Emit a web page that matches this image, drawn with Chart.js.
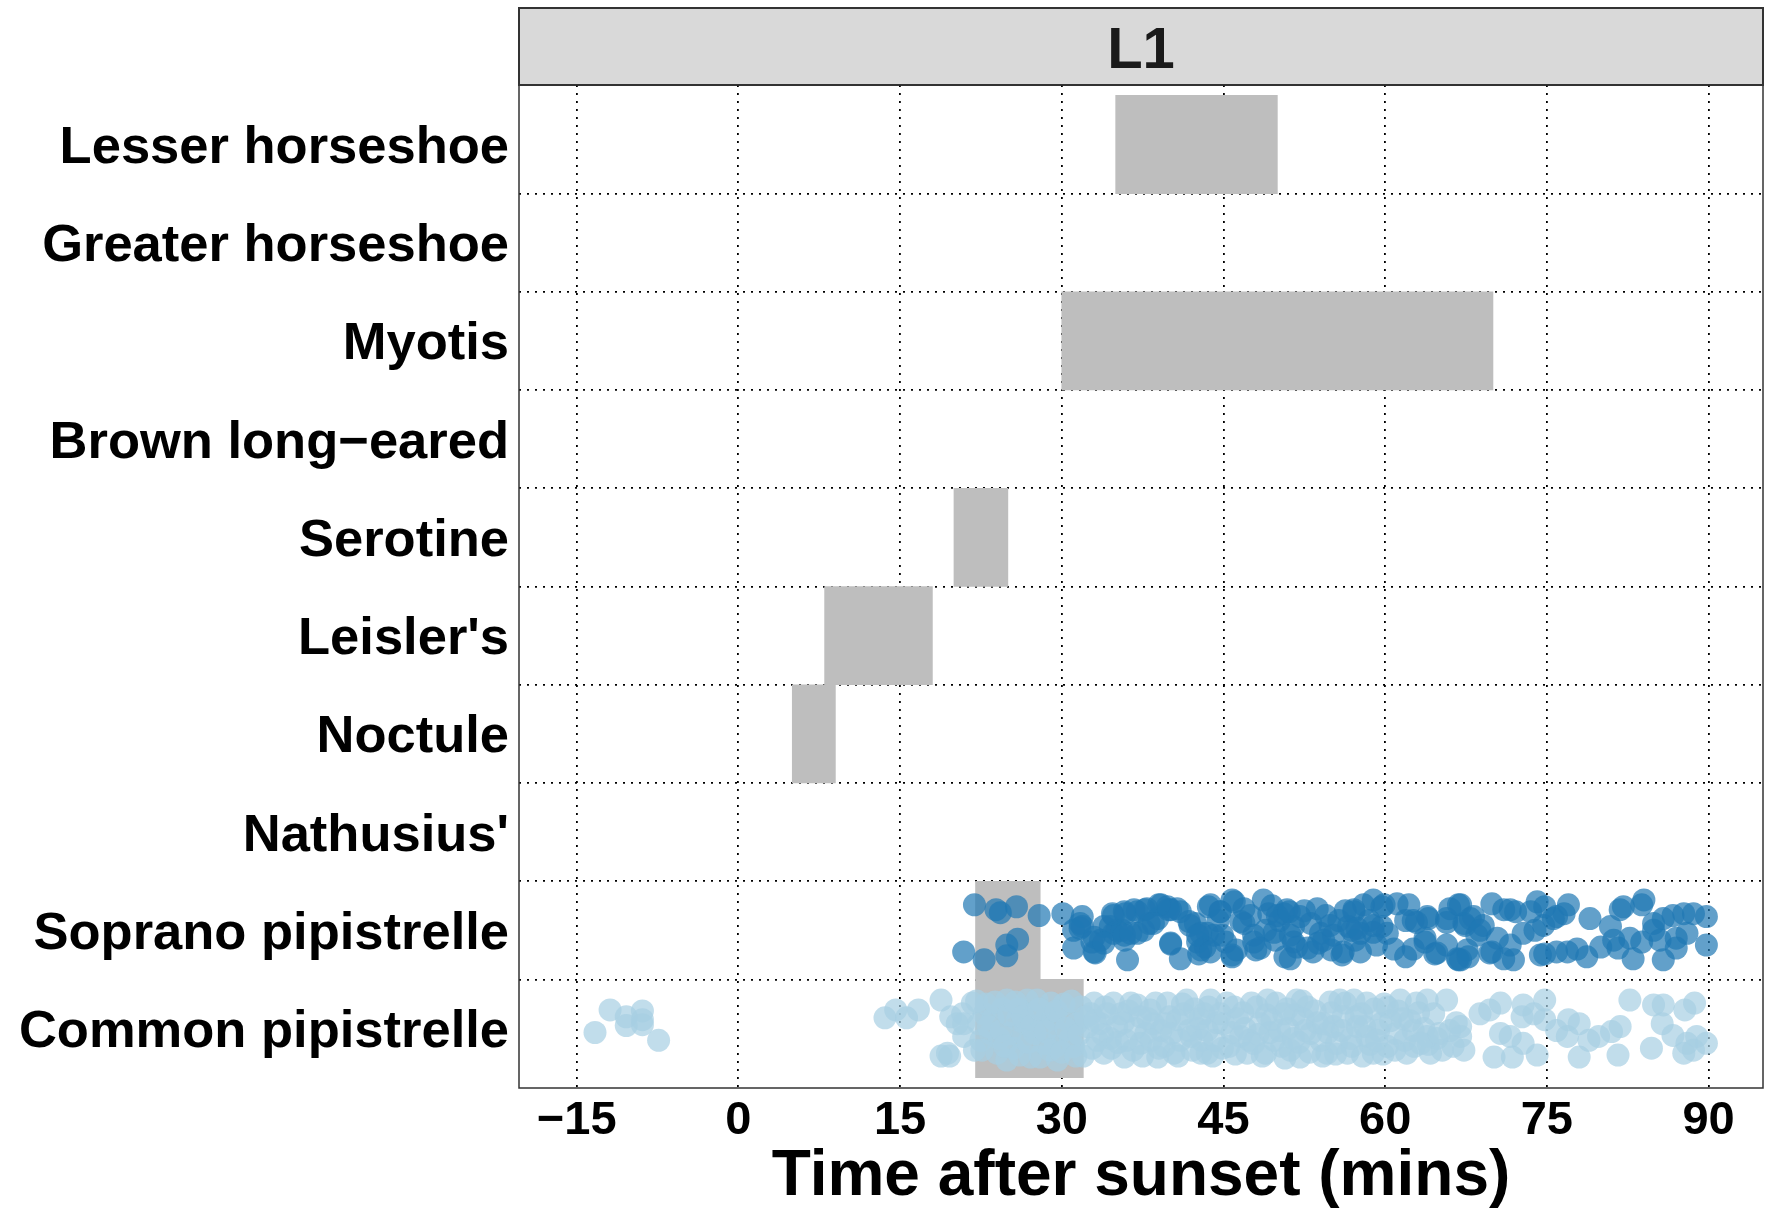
<!DOCTYPE html>
<html>
<head>
<meta charset="utf-8">
<title>L1</title>
<script src="https://cdn.jsdelivr.net/npm/chart.js@4/dist/chart.umd.min.js"></script>
<style>
  html, body { margin: 0; padding: 0; background: #fff; overflow: hidden; }
  #wrap { width: 1765px; height: 1213px; position: relative; }
  #wrap canvas { display: block; }
</style>
</head>
<body>
<div id="wrap"><canvas id="chart"></canvas></div>
<script>
// species, top to bottom
var species = ["Lesser horseshoe", "Greater horseshoe", "Myotis", "Brown long\u2212eared",
  "Serotine", "Leisler's", "Noctule", "Nathusius'", "Soprano pipistrelle", "Common pipistrelle"];

// grey activity windows (mins after sunset), null = none
var barStart = [35, null, 30, null, 20, 8, 5, null, 22, 22];
var barEnd   = [50, null, 70, null, 25, 18, 9, null, 28, 32];

var xTicks = [-15, 0, 15, 30, 45, 60, 75, 90];

// passes: [minutes, jitter within the row]
var sopranoPoints = [
  [21.9,-0.26],[23.9,-0.21],[24.3,-0.18],[25.8,-0.24],[27.9,-0.15],[30.1,-0.17],[31.9,-0.14],[31.9,-0.04],
  [20.9,0.22],[22.8,0.30],[24.9,0.15],[25.9,0.09],[24.9,0.26],[31.1,0.18],[33.1,0.23],[33.0,0.07],
  [33.9,-0.04],[34.8,-0.15],[35.1,0.0],[35.8,0.10],[36.1,0.30],[35.9,-0.17],[37.0,0.03],[37.7,-0.21],
  [37.0,-0.19],[38.9,-0.12],[39.2,-0.26],[40.1,-0.21],[41.0,-0.19],[40.1,0.14],[41.0,0.29],[41.8,-0.09],
  [41.9,-0.05],[42.7,0.24],[43.3,0.17],[43.6,-0.24],[43.5,0.03],
  [31.1,0.0],[31.7,-0.07],[32.8,0.12],[33.6,0.10],[34.5,-0.04],[34.8,0.03],[35.6,0.0],[36.4,0.03],
  [37.6,0.0],[38.1,-0.07],[39.8,-0.24],[40.7,-0.22],[42.4,-0.07],[42.6,0.12],
  [43.8,-0.26],[44.7,-0.19],[45.8,-0.31],[46.9,-0.22],[48.7,-0.31],[49.2,-0.17],[50.9,-0.21],[50.6,-0.17],
  [52.1,-0.14],[53.7,-0.22],[53.1,-0.07],[55.7,-0.10],[57.1,-0.21],[58.0,-0.26],[58.9,-0.31],[59.7,-0.24],
  [61.1,-0.27],[62.2,-0.26],[62.6,-0.10],[64.0,-0.12],[65.7,-0.12],[66.8,-0.26],[67.3,-0.07],
  [42.9,0.03],[44.1,0.05],[45.2,0.12],[46.9,-0.07],[48.9,0.0],[49.8,0.10],[51.5,-0.04],[51.8,0.17],
  [52.8,0.18],[53.8,0.13],[54.0,0.03],[55.2,0.05],[56.6,-0.04],[57.7,0.03],[58.9,0.02],[59.7,-0.04],[60.2,0.03],
  [42.9,0.20],[45.8,0.27],[48.0,0.20],[50.7,0.27],[56.0,0.25],[57.7,0.22],[60.8,0.19],[61.9,0.27],
  [62.6,0.19],[63.7,0.12],[64.6,0.24],[65.7,0.15],[66.8,0.30],[67.6,0.20],
  [44.5,-0.10],[46.2,0.20],[47.5,-0.15],[49.5,-0.25],[51.2,0.05],[52.5,-0.20],[54.5,-0.15],[55.0,0.20],
  [56.3,-0.20],[57.2,0.10],[58.5,-0.10],[59.2,0.15],[47.8,0.05],[50.2,-0.10],[53.3,0.22],[56.9,0.0],
  [31.7,-0.02],[33.0,0.22],[33.9,0.13],[34.7,-0.17],[35.8,-0.19],[36.7,-0.21],[37.9,-0.22],[39.0,-0.26],
  [39.9,-0.21],[35.8,0.05],[38.5,-0.07],[40.1,0.13],[42.6,0.05],[44.7,-0.19],[46.0,-0.29],[46.6,-0.09],
  [44.9,0.05],[43.8,0.22],[45.8,0.25],[47.8,0.12],[48.4,0.18],[50.0,-0.15],[51.1,-0.19],[49.7,0.02],
  [51.5,0.12],[51.2,0.29],[54.3,0.10],[54.9,-0.05],[56.1,0.22],[57.1,-0.19],[59.9,-0.26],[58.9,-0.05],
  [57.4,-0.02],[61.9,-0.10],[63.9,-0.14],[62.9,-0.08],[63.7,0.08],[64.8,0.23],[66.0,-0.22],[65.7,-0.08],
  [66.7,0.29],[67.9,-0.12],[68.5,0.05],[69.1,-0.05],[69.7,0.23],[71.6,-0.21],[73.5,-0.19],[74.4,0.25],
  [67.0,-0.26],[67.4,-0.05],[68.2,-0.14],[69.9,-0.27],[71.0,-0.21],[72.1,-0.19],[74.1,-0.29],[74.8,-0.24],
  [75.9,-0.14],[77.0,-0.26],[76.6,-0.17],[79.0,-0.12],[80.9,-0.04],[81.8,-0.21],[82.1,-0.24],[83.8,-0.26],
  [84.0,-0.31],[84.9,-0.07],[85.8,-0.12],[86.7,-0.15],[87.7,-0.17],[88.6,-0.17],[89.8,-0.14],
  [68.8,0.0],[70.4,0.08],[72.8,0.03],[73.9,0.0],[74.7,-0.05],[75.6,-0.12],[81.2,0.10],[82.7,0.08],
  [83.8,0.12],[84.9,0.0],[85.5,0.10],[87.0,0.08],[88.0,0.03],[89.8,0.15],
  [67.0,0.30],[67.7,0.27],[69.9,0.22],[71.0,0.29],[71.9,0.30],[71.6,0.15],[74.8,0.24],[75.9,0.22],
  [76.9,0.22],[77.8,0.19],[78.7,0.27],[80.0,0.17],[81.6,0.18],[83.0,0.29],[85.8,0.30],[87.0,0.18]
];

var commonPoints = [
  [-13.3,0.04],[-11.9,-0.19],[-10.4,-0.12],[-10.4,-0.03],[-8.9,-0.18],[-8.9,-0.09],[-8.9,-0.04],[-7.4,0.12],
  [13.6,-0.11],[14.6,-0.19],[15.6,-0.11],[16.7,-0.19],[18.8,0.28],[19.6,0.28],[20.3,-0.05],[20.8,-0.15],
  [18.8,-0.29],[19.7,-0.12],[19.4,0.25],[20.9,-0.05],[20.9,0.08],[21.7,-0.26],[21.9,0.22],
  [22.8,-0.15],[23.4,0.05],[24.0,0.25],[24.9,-0.29],[24.9,0.32],[25.9,-0.09],[26.8,-0.29],[27.1,0.29],
  [27.7,-0.29],[28.0,0.29],[28.7,-0.15],[29.0,-0.26],[29.4,0.18],[29.6,0.32],[30.5,-0.09],[31.1,0.18],
  [31.8,-0.22],[32.4,-0.02],[33.0,-0.26],[33.6,-0.05],[33.9,0.25],[34.8,-0.26],[35.1,-0.02],[35.8,0.29],
  [36.4,-0.26],[37.3,-0.12],[37.3,0.15],[38.2,-0.19],[38.9,0.29],[39.2,0.02],[39.8,-0.26],[40.4,0.25],
  [40.7,-0.09],[41.6,-0.29],[42.0,0.08],[42.9,0.25],[43.2,-0.15],
  [22.3,-0.05],[22.5,0.12],[23.0,-0.25],[23.6,-0.10],[24.2,0.10],[24.5,-0.20],[25.2,0.05],[25.5,0.20],
  [26.0,-0.20],[26.3,0.10],[26.6,-0.05],[27.3,-0.15],[27.5,0.05],[28.2,-0.05],[28.4,0.15],[29.2,-0.10],
  [29.8,0.05],[30.2,-0.25],[30.8,0.10],[31.4,-0.05],[32.0,0.28],[32.7,-0.15],[33.3,0.12],[34.2,-0.15],
  [34.5,0.10],[35.5,-0.15],[36.0,0.12],[36.8,0.0],[37.8,0.05],[38.5,-0.05],[39.5,0.18],[40.0,-0.12],
  [41.0,0.12],[41.3,-0.15],[42.3,-0.20],[42.6,0.0],
  [22.1,-0.28],[22.6,0.22],[23.2,-0.02],[23.8,-0.27],[24.4,0.02],[24.7,0.18],[25.1,-0.14],[25.7,-0.27],
  [26.1,0.27],[26.4,-0.12],[26.9,0.14],[27.2,-0.02],[27.9,-0.20],[28.5,0.03],[28.9,0.22],[29.5,-0.18],
  [30.0,0.24],[30.4,0.0],[30.9,-0.28],[31.3,0.28],[31.6,0.06],[32.2,-0.12],[32.8,0.20],[33.1,-0.08],
  [33.8,0.06],[34.0,-0.22],[34.6,0.20],[35.2,0.14],[35.7,-0.06],[36.2,-0.18],[36.6,0.22],[37.0,-0.24],
  [37.5,0.28],[38.0,-0.10],[38.3,0.12],[38.7,-0.26],[39.0,0.20],[39.6,-0.05],[40.2,0.05],[40.8,0.28],
  [41.2,-0.25],[41.8,0.02],[42.1,0.22],[42.8,-0.10],[43.0,0.12],[43.6,-0.22],[44.0,0.28],[44.4,-0.06],
  [44.9,0.20],[45.3,-0.26],[45.8,0.04],[46.1,0.26],[46.8,-0.16],[47.4,0.12],[47.6,-0.26],[48.2,0.06],
  [48.6,0.28],[49.0,-0.14],[49.3,0.04],[49.9,-0.26],[50.4,0.18],[50.7,0.30],[51.0,0.0],[51.6,-0.14],
  [52.0,0.14],[52.3,-0.28],[52.6,0.02],[53.0,0.24],[53.7,-0.06],[54.2,0.28],[54.7,0.04],[55.0,-0.16],
  [55.4,0.26],[56.0,0.02],[56.3,-0.26],[56.9,0.18],[57.3,-0.12],[57.9,0.28],[58.1,-0.02],[58.6,0.16],
  [59.0,-0.20],[59.4,0.02],[59.8,0.26],[60.5,-0.08],[60.9,0.22],[61.2,-0.18],[61.8,0.12],[62.3,-0.08],
  [62.7,0.18],[63.1,-0.16],[63.6,0.00],[64.0,0.16],[64.8,0.10],[65.3,0.22],[66.0,0.02],[66.6,-0.06],
  [43.8,-0.29],[43.5,0.02],[43.5,0.25],[44.7,-0.15],[46.0,-0.22],[46.6,0.08],[47.2,0.25],[48.1,-0.22],
  [49.1,-0.29],[49.5,-0.09],[49.7,0.12],[48.9,0.25],[50.6,-0.15],[51.2,0.22],[51.8,-0.29],[52.8,-0.22],
  [53.1,0.05],[52.1,0.29],[54.6,0.25],[54.9,-0.27],[55.2,-0.02],[55.8,-0.29],[56.5,0.25],[57.1,-0.29],
  [57.4,-0.02],[58.3,-0.26],[58.3,0.08],[58.9,0.25],[59.6,-0.05],[60.2,-0.22],[60.2,0.18],[61.4,-0.29],
  [62.0,0.25],[62.6,0.02],[62.9,-0.26],[63.9,-0.29],[64.2,0.25],[64.5,-0.15],[65.7,-0.29],[63.9,0.08],
  [66.3,0.18],[67.0,-0.02],
  [44.2,0.12],[45.0,-0.05],[45.5,0.18],[46.3,-0.10],[47.0,0.0],[47.8,0.15],[48.4,-0.05],[50.2,0.02],
  [50.9,-0.20],[51.5,0.10],[52.4,-0.10],[53.5,-0.18],[54.0,0.12],[54.3,-0.05],[55.5,0.15],[56.1,-0.12],
  [56.8,0.10],[57.8,-0.15],[59.2,0.12],[59.9,-0.25],[61.0,0.05],[61.6,-0.10],[63.3,0.15],[65.0,0.05],
  [67.0,0.08],[67.3,0.22],[68.8,-0.15],[69.7,-0.19],[70.7,-0.26],[70.1,0.29],[70.7,0.05],[71.8,0.29],
  [71.6,0.08],[72.8,0.15],[72.8,-0.24],[72.7,-0.12],[74.1,0.27],[73.8,-0.15],[74.8,-0.29],[74.8,-0.09],
  [75.9,0.02],[76.9,0.08],[77.0,-0.09],[78.0,-0.05],[78.0,0.29],[78.9,0.12],[79.8,0.08],[81.0,0.03],
  [81.8,-0.02],[81.6,0.27],[82.7,-0.29],[84.7,0.20],[84.9,-0.24],[85.8,-0.24],[85.7,-0.05],[86.7,0.07],
  [87.8,-0.19],[88.7,-0.26],[87.7,0.25],[88.0,0.15],[88.9,0.08],[89.8,0.15],[88.6,0.22]
];

var SOPRANO_ROW = species.indexOf("Soprano pipistrelle");
var COMMON_ROW = species.indexOf("Common pipistrelle");

function toXY(points, row) {
  var out = [];
  for (var i = 0; i < points.length; i++) {
    out.push({ x: points[i][0], y: row + points[i][1] });
  }
  return out;
}

var bars = [];
for (var i = 0; i < species.length; i++) {
  if (barStart[i] !== null) bars.push({ y: i, x: [barStart[i], barEnd[i]] });
}

function minus(v) {
  return v < 0 ? "\u2212" + Math.abs(v) : String(v);
}

// grey strip above the panel + dark panel border
var panelPlugin = {
  id: "panel",
  beforeDraw: function (chart) {
    var ctx = chart.ctx;
    var t = chart.titleBlock;
    ctx.save();
    ctx.fillStyle = "#fff";
    ctx.fillRect(0, 0, chart.width, chart.height);
    ctx.fillStyle = "#d9d9d9";
    ctx.fillRect(t.left, t.top, t.width, t.height);
    ctx.strokeStyle = "#333";
    ctx.lineWidth = 2;
    ctx.strokeRect(t.left, t.top, t.width, t.height);
    ctx.restore();
  },
  afterDatasetsDraw: function (chart) {
    var a = chart.chartArea;
    var ctx = chart.ctx;
    ctx.save();
    ctx.strokeStyle = "#333";
    ctx.lineWidth = 1.5;
    ctx.strokeRect(a.left, a.top, a.right - a.left, a.bottom - a.top);
    ctx.restore();
  }
};

Chart.defaults.font.family = "'Liberation Sans', Arial, sans-serif";
Chart.defaults.font.weight = "bold";
Chart.defaults.color = "#000";

new Chart(document.getElementById("chart"), {
  type: "scatter",
  data: {
    datasets: [
      {
        label: "Soprano pipistrelle",
        data: toXY(sopranoPoints, SOPRANO_ROW),
        backgroundColor: "rgba(31,120,180,0.7)",
        pointRadius: 11.5,
        pointHoverRadius: 11.5,
        borderWidth: 0,
        order: 1
      },
      {
        label: "Common pipistrelle",
        data: toXY(commonPoints, COMMON_ROW),
        backgroundColor: "rgba(166,206,227,0.7)",
        pointRadius: 11.5,
        pointHoverRadius: 11.5,
        borderWidth: 0,
        order: 2
      },
      {
        type: "bar",
        label: "window",
        indexAxis: "y",
        data: bars,
        backgroundColor: "#bebebe",
        borderWidth: 0,
        barPercentage: 1,
        categoryPercentage: 1,
        order: 3
      }
    ]
  },
  options: {
    responsive: true,
    maintainAspectRatio: false,
    animation: false,
    layout: { autoPadding: false, padding: { top: 8, right: 2, bottom: 0, left: 0 } },
    plugins: {
      legend: { display: false },
      tooltip: { enabled: false },
      title: {
        display: true,
        text: "L1",
        fullSize: false,
        color: "#1a1a1a",
        font: { size: 58, weight: "bold", lineHeight: 1 },
        padding: { top: 15, bottom: 4 }
      }
    },
    scales: {
      x: {
        type: "linear",
        min: -20.35,
        max: 95.05,
        afterBuildTicks: function (scale) {
          scale.ticks = xTicks.map(function (v) { return { value: v }; });
        },
        afterFit: function (scale) { scale.height = 125; },
        grid: { color: "#000", lineWidth: 1.8, drawTicks: false },
        border: { display: false, dash: [2, 6] },
        ticks: {
          autoSkip: false,
          maxRotation: 0,
          padding: 10,
          color: "#000",
          font: { size: 47, weight: "bold", lineHeight: 1 },
          callback: function (v) { return minus(v); }
        },
        title: {
          display: true,
          text: "Time after sunset (mins)",
          color: "#000",
          font: { size: 64, weight: "bold", lineHeight: 1 },
          padding: { top: 0, bottom: 4 }
        }
      },
      y: {
        type: "linear",
        reverse: true,
        offset: false,
        min: -0.605,
        max: species.length - 1 + 0.605,
        afterBuildTicks: function (scale) {
          scale.ticks = species.map(function (s, i) { return { value: i }; });
        },
        afterFit: function (scale) { scale.width = 519; },
        grid: {
          offset: true,
          drawTicks: false,
          lineWidth: 1.8,
          color: function (c) {
            return (c.index === undefined || c.index === 0) ? "rgba(0,0,0,0)" : "#000";
          }
        },
        border: { display: false, dash: [2, 6] },
        ticks: {
          autoSkip: false,
          padding: 10,
          labelOffset: 4,
          color: "#000",
          font: { size: 52.5, weight: "bold" },
          callback: function (v) { return species[v]; }
        }
      }
    }
  },
  plugins: [panelPlugin]
});
</script>
</body>
</html>
